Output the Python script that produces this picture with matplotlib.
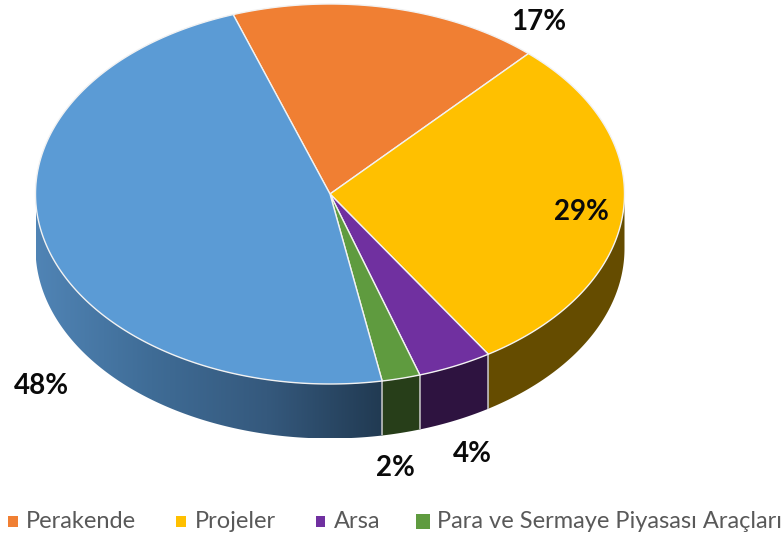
import numpy as np
import matplotlib
matplotlib.use("Agg")
import matplotlib.pyplot as plt
from matplotlib.patches import Polygon, Rectangle
from matplotlib.colors import LinearSegmentedColormap

categories = ["Perakende", "Projeler", "Arsa", "Para ve Sermaye Piyasası Araçları", "Diğer"]
values = [17.1, 29.2, 4.1, 2.1, 47.5]
value_labels = ["17%", "29%", "4%", "2%", "48%"]
top_colors = ["#F07F33", "#FFC000", "#7030A0", "#5F9B3F", "#5B9BD5"]
side_colors = ["#8A4A1C", "#654C00", "#2E1340", "#273E19", None]
legend_names = categories[:4]

W, H = 783, 538
cx, cy, rx, ry, depth = 330.0, 194.0, 294.5, 190.0, 54.5
start_deg = -19.2

plt.rcParams["font.family"] = ["Lato", "DejaVu Sans"]
fig = plt.figure(figsize=(W / 100, H / 100), dpi=100)
ax = fig.add_axes([0, 0, 1, 1])
ax.set_axis_off()


def arc(a0, a1, dy=0.0, n=None):
    n = n or max(3, int(abs(a1 - a0) * 2))
    t = np.radians(np.linspace(a0, a1, n))
    return np.column_stack([cx + rx * np.sin(t), cy - ry * np.cos(t) + dy])


edges = start_deg + np.concatenate([[0], np.cumsum(values)]) * 3.6
edge_col = "#F2F2F2"
blue_grad = LinearSegmentedColormap.from_list("g", ["#5084B5", "#3F6C96", "#35597D", "#213A52"])

# side walls (only the front half of the rim is visible)
for i, (a0, a1) in enumerate(zip(edges[:-1], edges[1:])):
    lo, hi = max(a0, 90), min(a1, 270)
    if hi <= lo:
        continue
    pts = np.vstack([arc(lo, hi), arc(hi, lo, depth)])
    if side_colors[i] is None:
        poly = Polygon(pts, closed=True, fc="none", ec="none")
        ax.add_patch(poly)
        grad = np.linspace(0, 1, 256).reshape(1, -1)
        im = ax.imshow(grad, cmap=blue_grad, aspect="auto", interpolation="bilinear",
                       extent=[pts[:, 0].min(), pts[:, 0].max(), pts[:, 1].max(), pts[:, 1].min()],
                       zorder=1)
        im.set_clip_path(poly)
    else:
        ax.add_patch(Polygon(pts, closed=True, fc=side_colors[i], ec="none", zorder=1))
    if lo > 90:
        p = arc(lo, lo, 0, 2)[0]
        ax.plot([p[0], p[0]], [p[1], p[1] + depth], color="#C8C8C8", lw=1.1, zorder=2,
                solid_capstyle="butt")

# top surface
for i, (a0, a1) in enumerate(zip(edges[:-1], edges[1:])):
    pts = np.vstack([[cx, cy], arc(a0, a1)])
    ax.add_patch(Polygon(pts, closed=True, fc=top_colors[i], ec=edge_col, lw=1.0, zorder=3,
                         joinstyle="round"))

# value labels
label_xy = [(539, 22.5), (581, 211.5), (472, 453.5), (395, 468.5), (41, 385.5)]
for txt, (x, y) in zip(value_labels, label_xy):
    ax.text(x, y, txt, ha="center", va="center", fontsize=20, fontweight="bold",
            color="#0A0A0A", zorder=5)

# legend row
swatches = [(8, 516, 9.5, 11), (176, 516, 9.5, 11), (315.5, 516, 9.5, 11), (415.5, 513.5, 14, 15)]
text_x = [26, 195, 334, 437]
for name, col, (sx, sy, sw, sh), tx in zip(legend_names, top_colors, swatches, text_x):
    ax.add_patch(Rectangle((sx, sy), sw, sh, fc=col, ec="none", zorder=5))
    ax.text(tx, 522, name, ha="left", va="center", fontsize=17, color="#595959", zorder=5)

ax.set_xlim(0, W)
ax.set_ylim(H, 0)
fig.savefig("out.png", dpi=100, facecolor="white")
